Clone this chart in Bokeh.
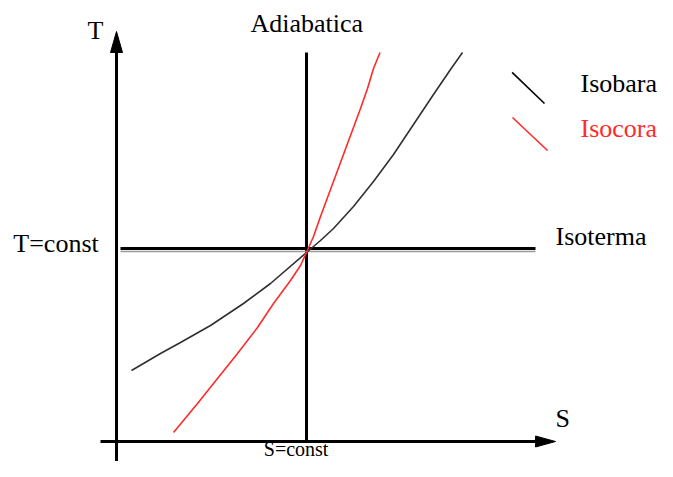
from bokeh.plotting import figure
from bokeh.models import Range1d, Label
from bokeh.embed import file_html
from bokeh.resources import INLINE

# ---- data (entropy S, temperature T; arbitrary units) ----
isobara_S = [0.375, 1.10, 1.60, 2.35, 3.175, 3.85, 4.75, 5.10, 5.425, 5.925, 6.425,
             6.925, 7.425, 7.925, 8.35, 8.65]
isobara_T = [1.775, 2.20, 2.475, 2.90, 3.45, 3.95, 4.725, 5.025, 5.325, 5.875, 6.50,
             7.175, 7.925, 8.675, 9.30, 9.725]
isocora_S = [1.425, 2.025, 2.525, 3.025, 3.525, 3.925, 4.35, 4.60, 4.75, 4.925, 5.10,
             5.35, 5.60, 5.85, 6.10, 6.275, 6.425, 6.5875]
isocora_T = [0.225, 0.95, 1.575, 2.20, 2.85, 3.45, 4.025, 4.40, 4.725, 5.125, 5.625,
             6.30, 6.975, 7.65, 8.325, 8.825, 9.325, 9.725]
S_const = 4.75          # adiabatica
T_const = 4.825         # isoterma
S_axis_end = 10.975
T_axis_end = 10.25
line_top = 9.725
iso_end = 10.475

labels_axes = ["T", "S"]
label_adiab = "Adiabatica"
label_isot = "Isoterma"
label_Tc = "T=const"
label_Sc = "S=const"
legend_names = ["Isobara", "Isocora"]

FONT = "Liberation Serif"
FS = "26px"
RED = "#ff2a2a"
u = 1 / 40.0  # data units per pixel
dy = 0.24      # text baseline correction

p = figure(width=657, height=461, output_backend="svg", toolbar_location=None,
           x_axis_type=None, y_axis_type=None, min_border=0,
           x_range=Range1d(-2.9, 13.525), y_range=Range1d(-0.5, 11.025))
p.outline_line_color = None
p.background_fill_color = "white"
p.border_fill_color = "white"

# axes with arrows
head_len, head_half = 21 * u, 6 * u
p.line([0, 0], [-0.5, T_axis_end - head_len], line_color="black", line_width=3)
p.patch([-head_half, head_half, 0], [T_axis_end - head_len, T_axis_end - head_len, T_axis_end],
        fill_color="black", line_color="black")
head_len2, head_half2 = 20 * u, 5.5 * u
p.line([-0.4, S_axis_end - head_len2], [0, 0], line_color="black", line_width=3)
p.patch([S_axis_end - head_len2, S_axis_end - head_len2, S_axis_end], [-head_half2, head_half2, 0],
        fill_color="black", line_color="black")

# adiabatic and isotherm
p.line([S_const, S_const], [0, line_top], line_color="black", line_width=3)
p.line([0.1, iso_end], [T_const - 3 * u, T_const - 3 * u], line_color="#9a9a9a", line_width=1.5)
p.line([0.1, iso_end], [T_const, T_const], line_color="black", line_width=3)

# curves
p.line(isobara_S, isobara_T, line_color="#303030", line_width=1.6)
p.line(isocora_S, isocora_T, line_color=RED, line_width=1.6)

# legend marks
p.segment(x0=[9.89, 9.90], y0=[9.23, 8.10], x1=[10.70, 10.775], y1=[8.45, 7.275],
          line_color=["black", RED], line_width=1.6)


def lab(x, y, t, color="black", fs=FS, align="left"):
    p.add_layout(Label(x=x, y=y, text=t, text_font=FONT, text_font_size=fs,
                       text_color=color, text_baseline="alphabetic", text_align=align))


lab(-0.725, 10.025 + dy, labels_axes[0])
lab(10.975, 0.325 + dy, labels_axes[1])
lab(3.35, 10.2 + dy, label_adiab)
lab(10.975, 4.875 + dy, label_isot)
lab(-2.58, 4.70 + dy, label_Tc)
lab(4.49, -0.19, label_Sc, fs="20px", align="center")
lab(11.6, 8.70 + dy, legend_names[0])
lab(11.6, 7.575 + dy, legend_names[1], RED)

open("out.html", "w").write(file_html(p, INLINE))
